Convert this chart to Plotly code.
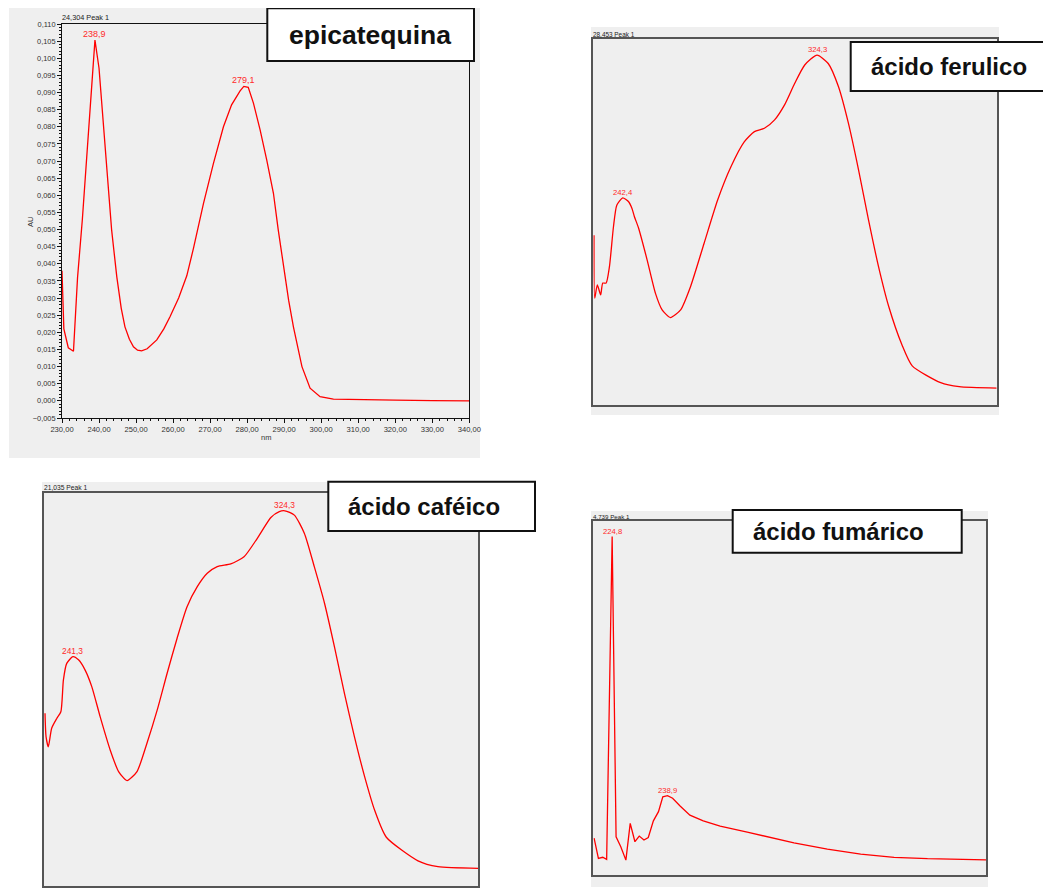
import numpy as np
import plotly.graph_objects as go

W, H = 1051, 893
OFF = 8  # page body margin of the browser

# ---------------- data ----------------
# epicatequina (AU vs nm)
epi_nm = [230.0, 230.5, 231.7, 233.1, 234.2, 235.5, 238.9, 240.0, 243.4, 244.8, 246.0,
          247.0, 248.2, 249.3, 250.4, 251.5, 253.0, 255.6, 257.5, 259.2, 261.5, 263.7,
          265.5, 267.3, 268.2, 270.9, 273.6, 275.8, 278.1, 279.1, 280.3, 281.7, 283.5, 285.3, 287.1,
          288.4, 289.8, 291.2, 292.5, 294.8, 297.0, 299.7, 303.3, 310.0, 320.0, 330.0, 340.0]
epi_au = [0.0380, 0.0210, 0.0155, 0.0145, 0.0360, 0.0530, 0.1053, 0.0971, 0.0499, 0.0362, 0.0270,
          0.0216, 0.0180, 0.0158, 0.0148, 0.0146, 0.0152, 0.0178, 0.0210, 0.0246, 0.0300, 0.0365,
          0.0445, 0.0530, 0.0576, 0.0693, 0.0800, 0.0864, 0.0905, 0.0918, 0.0915, 0.0869, 0.0791, 0.0703, 0.0606,
          0.0499, 0.0392, 0.0294, 0.0216, 0.0100, 0.0037, 0.0012, 0.0005, 0.0003, 0.0002, 0.0001, 0.0000]
epi_peaks = [238.9, 279.1]

# acido ferulico (relative absorbance vs nm)
fer_nm = [230.3, 230.6, 231.7, 233.1, 234.0, 235.4, 236.8, 238.5, 239.9, 242.4, 244.8, 246.3,
          247.3, 249.1, 252.7, 256.2, 259.0, 262.5, 266.8, 271.0, 276.7, 282.4, 288.0, 293.6,
          297.9, 302.1, 306.4, 310.6, 314.9, 319.1, 324.3, 329.0, 333.3, 337.5, 341.8, 346.0,
          350.2, 354.5, 360.1, 364.4, 376.4, 384.2, 400.0]
fer_ab = [0.464, 0.292, 0.328, 0.301, 0.333, 0.333, 0.378, 0.487, 0.546, 0.566, 0.556, 0.537,
          0.515, 0.483, 0.396, 0.305, 0.260, 0.239, 0.260, 0.324, 0.442, 0.560, 0.651, 0.719,
          0.747, 0.756, 0.779, 0.820, 0.879, 0.929, 0.956, 0.933, 0.870, 0.770, 0.642, 0.505,
          0.378, 0.269, 0.164, 0.107, 0.061, 0.050, 0.046]
fer_peaks = [242.4, 324.3]

# acido cafeico
caf_nm = [230.4, 230.8, 231.7, 233.0, 235.0, 236.6, 237.6, 238.9, 241.3, 243.5, 246.1, 248.7,
          252.0, 255.9, 259.2, 262.5, 266.4, 270.3, 274.3, 278.2, 282.1, 286.0, 290.0, 293.9,
          297.8, 303.1, 308.3, 313.5, 318.8, 322.1, 324.3, 328.0, 331.9, 335.8, 339.8, 343.7,
          347.6, 351.5, 355.5, 359.4, 364.0, 376.4, 384.2, 400.0]
caf_ab = [0.439, 0.380, 0.354, 0.401, 0.426, 0.443, 0.524, 0.566, 0.583, 0.575, 0.549, 0.507,
          0.430, 0.346, 0.291, 0.268, 0.291, 0.363, 0.447, 0.541, 0.630, 0.710, 0.761, 0.795,
          0.812, 0.819, 0.837, 0.884, 0.937, 0.952, 0.954, 0.943, 0.897, 0.812, 0.719, 0.608,
          0.490, 0.380, 0.278, 0.193, 0.124, 0.064, 0.049, 0.045]
caf_peaks = [241.3, 324.3]

# acido fumarico
fum_nm = [220.2, 221.3, 222.4, 223.4, 224.8, 225.8, 227.0, 228.3, 229.4, 230.6, 231.7, 232.9,
          234.0, 235.3, 236.6, 237.7, 238.9, 240.2, 242.1, 244.6, 248.0, 252.3, 259.2, 265.0,
          271.1, 279.6, 288.1, 296.6, 305.1, 320.0]
fum_ab = [0.104, 0.047, 0.050, 0.044, 0.956, 0.108, 0.080, 0.042, 0.146, 0.094, 0.110, 0.099,
          0.106, 0.153, 0.179, 0.221, 0.224, 0.217, 0.195, 0.169, 0.153, 0.138, 0.121, 0.106,
          0.091, 0.073, 0.059, 0.050, 0.046, 0.043]
fum_peaks = [224.8, 238.9]

names = ["epicatequina", "ácido ferulico", "ácido caféico", "ácido fumárico"]
ret_times = ["24,304", "28,453", "21,035", "4,739"]

# ---------------- layout helpers (pixel boxes) ----------------
FW, FH = W - OFF, H - OFF

def px_x(p):
    return (p - OFF) / FW

def px_y(p):
    return 1 - (p - OFF) / FH

RED = "#ff0000"
GRAY_BG = "#efefef"
FONT = "Liberation Sans, Arial, sans-serif"

# plot frames: (left, top, right, bottom) in px
frames = [(62, 24, 469.3, 418), (593.3, 39, 996.7, 405), (44, 492.7, 478.3, 886), (593.3, 521, 986, 875)]
outer = [(9, 8, 480, 458), (591, 27, 999, 415), (42, 482, 480, 887), (591, 511, 988, 887)]
boxes = [(267.3, 8.3, 474, 61), (850.7, 42, 1049, 91), (328.3, 481.7, 535, 531), (732.7, 510, 961.7, 552.7)]
box_text_x = [369.5, 949, 424, 838.3]
box_font = [26.5, 24, 24, 24]
xranges = [[230, 340], [230, 400], [230, 400], [220, 320]]
yranges = [[-0.005, 0.110], [0, 1], [0, 1], [0, 1]]
series = [(epi_nm, epi_au, epi_peaks, "linear"), (fer_nm, fer_ab, fer_peaks, "spline"),
          (caf_nm, caf_ab, caf_peaks, "spline"), (fum_nm, fum_ab, fum_peaks, "linear")]
peak_font = [9, 7.7, 8.4, 7.7]
head_font = [7.3, 6.4, 6.7, 6.2]

fig = go.Figure()
shapes = []
annotations = []

for i in range(4):
    ax = "" if i == 0 else str(i + 1)
    xs, ys, pk, shape = series[i]
    line = dict(color=RED, width=1.3, shape=shape)
    if shape == "spline":
        line["smoothing"] = 0.6
    fig.add_trace(go.Scatter(x=xs, y=ys, mode="lines", line=line,
                             xaxis="x" + ax, yaxis="y" + ax, showlegend=False, hoverinfo="skip"))

    l, t, r, b = frames[i]
    if i == 0:
        xa = dict(range=xranges[i], linecolor="#111", linewidth=1,
                  ticks="outside", ticklen=4, tickcolor="#111", dtick=10, tick0=230,
                  tickformat=".2f", tickfont=dict(family=FONT, size=7.6, color="#333"),
                  minor=dict(ticks="outside", ticklen=2, dtick=2, tickcolor="#111"))
        ya = dict(range=yranges[i], linecolor="#111", linewidth=1,
                  ticks="outside", ticklen=4, tickcolor="#111", dtick=0.005, tick0=0,
                  tickformat=".3f", tickfont=dict(family=FONT, size=7.4, color="#333"),
                  minor=dict(ticks="outside", ticklen=2, dtick=0.001, tickcolor="#111"))
    else:
        xa = dict(range=xranges[i], linecolor="#555", linewidth=1.5, showticklabels=False, ticks="")
        ya = dict(range=yranges[i], linecolor="#555", linewidth=1.5, showticklabels=False, ticks="")
    for a in (xa, ya):
        a.update(showgrid=False, zeroline=False, showline=True, mirror=True, automargin=False,
                 fixedrange=True)
    xa["domain"] = [px_x(l), px_x(r)]
    ya["domain"] = [px_y(b), px_y(t)]
    xa["anchor"] = "y" + ax
    ya["anchor"] = "x" + ax
    fig.update_layout(**{"xaxis" + ax: xa, "yaxis" + ax: ya})

    # outer gray panel
    ol, ot, orr, ob = outer[i]
    shapes.append(dict(type="rect", xref="paper", yref="paper", x0=px_x(ol), x1=px_x(orr),
                       y0=px_y(ob), y1=px_y(ot), fillcolor=GRAY_BG, line=dict(width=0), layer="below"))
    # label box
    bl, bt, br, bb = boxes[i]
    shapes.append(dict(type="rect", xref="paper", yref="paper", x0=px_x(bl), x1=px_x(br),
                       y0=px_y(bb), y1=px_y(bt), fillcolor="white", line=dict(color="#111", width=2),
                       layer="above"))
    annotations.append(dict(xref="paper", yref="paper", x=px_x(box_text_x[i]), y=px_y((bt + bb) / 2),
                            text="<b>" + names[i] + "</b>", showarrow=False, xanchor="center",
                            yanchor="middle", font=dict(family=FONT, size=box_font[i], color="#111")))
    # header
    annotations.append(dict(xref="paper", yref="paper", x=px_x(l - 1), y=px_y(t - 0.5),
                            text=ret_times[i] + " Peak 1", showarrow=False, xanchor="left",
                            yanchor="bottom", borderpad=0,
                            font=dict(family=FONT, size=head_font[i], color="#222")))
    # peak labels
    for p in pk:
        pv = float(np.interp(p, xs, ys))
        annotations.append(dict(xref="x" + ax, yref="y" + ax, x=p, y=pv,
                                text=f"{p:.1f}".replace(".", ","), showarrow=False,
                                xanchor="center", yanchor="bottom", yshift=0, borderpad=0,
                                font=dict(family=FONT, size=peak_font[i], color="#ff2a2a")))

# axis titles for the first panel
annotations.append(dict(xref="paper", yref="paper", x=px_x(30), y=px_y(222), text="AU",
                        showarrow=False, textangle=-90, xanchor="center", yanchor="middle",
                        font=dict(family=FONT, size=7.5, color="#333")))
annotations.append(dict(xref="paper", yref="paper", x=px_x(266), y=px_y(437), text="nm",
                        showarrow=False, xanchor="center", yanchor="middle",
                        font=dict(family=FONT, size=7.5, color="#333")))

fig.update_layout(template="none", width=FW, height=FH, margin=dict(l=0, r=0, t=0, b=0, pad=0),
                  autosize=False, paper_bgcolor="white", plot_bgcolor=GRAY_BG, separators=",.",
                  shapes=shapes, annotations=annotations, hovermode=False, showlegend=False)

fig.write_html("out.html", config={"displayModeBar": False})
